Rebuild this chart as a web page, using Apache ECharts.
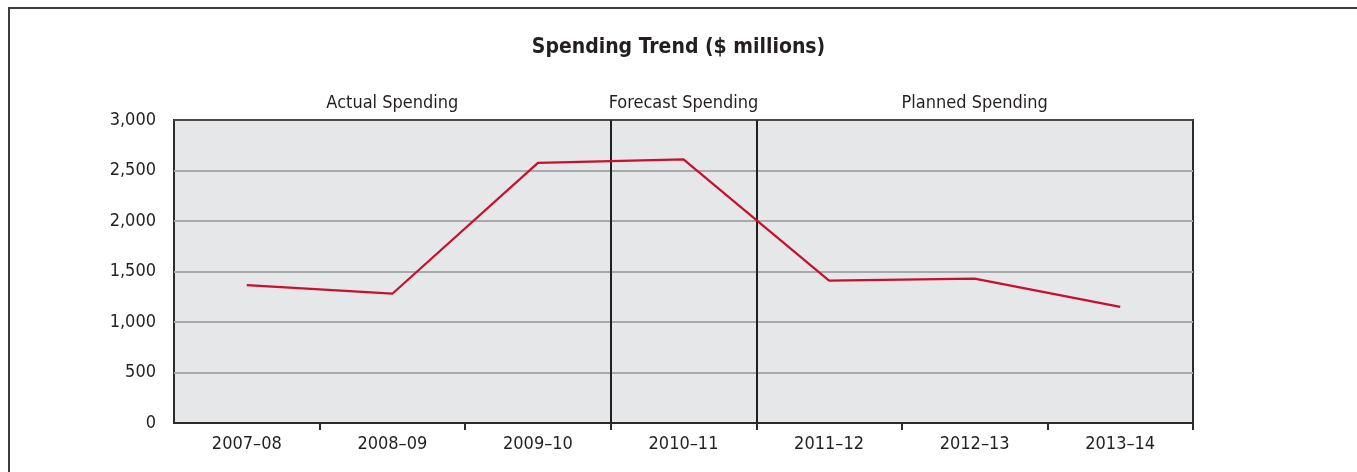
<!DOCTYPE html>
<html>
<head>
<meta charset="utf-8">
<title>Spending Trend</title>
<script src="https://cdn.jsdelivr.net/npm/echarts@6/dist/echarts.min.js"></script>
<style>
  html, body { margin: 0; padding: 0; background: #fff; }
  #chart { width: 1357px; height: 472px; }
</style>
</head>
<body>
<div id="chart"></div>
<script>
// Fiscal years and spending ($ millions)
const years = ['2007–08', '2008–09', '2009–10', '2010–11', '2011–12', '2012–13', '2013–14'];
const spending = [1365, 1280, 2575, 2610, 1410, 1430, 1150];

// Period bands: [label, first year index, year index after last]
const periodNames = ['Actual Spending', 'Forecast Spending', 'Planned Spending'];
const periodStart = [0, 3, 4];
const periodEnd = [3, 4, 7];

// Y-axis ticks
const yMin = 0;
const yMax = 3000;
const yStep = 500;

const FONT = "'DejaVu Sans Condensed', 'Liberation Sans', sans-serif";
const INK = '#231f20';

const chart = echarts.init(document.getElementById('chart'), null, { renderer: 'canvas' });

const periodAreas = periodNames.map((name, i) => [
  { xAxis: periodStart[i], name: name },
  { xAxis: periodEnd[i] }
]);

chart.setOption({
  animation: false,
  backgroundColor: '#ffffff',
  title: {
    text: 'Spending Trend ($ millions)',
    left: 'center',
    top: 32,
    textStyle: { fontFamily: FONT, fontSize: 21, fontWeight: 'bold', color: INK }
  },
  graphic: [{
    type: 'rect',
    shape: { x: 9, y: 8, width: 1400, height: 500 },
    style: { fill: 'none', stroke: '#3c3c3c', lineWidth: 2 },
    silent: true,
    z: 100
  }],
  grid: {
    left: 174, top: 120, width: 1019, height: 303,
    show: true,
    backgroundColor: '#e6e7e8',
    borderColor: '#2b2b2b',
    borderWidth: 2
  },
  xAxis: [{
    type: 'category',
    data: years,
    boundaryGap: true,
    axisLine: { show: true, lineStyle: { color: '#2b2b2b', width: 2 } },
    axisTick: {
      show: true,
      length: 7,
      interval: i => i !== 0,
      lineStyle: { color: '#2b2b2b', width: 2 }
    },
    axisLabel: { margin: 12, fontFamily: FONT, fontSize: 18, color: INK },
    splitLine: { show: false }
  }, {
    // Hidden linear axis spanning the year slots, used for period dividers
    type: 'value',
    min: 0,
    max: years.length,
    show: false,
    position: 'bottom'
  }],
  yAxis: {
    type: 'value',
    min: yMin,
    max: yMax,
    interval: yStep,
    axisLine: { show: false },
    axisTick: { show: false },
    axisLabel: {
      margin: 18,
      fontFamily: FONT,
      fontSize: 18,
      color: INK,
      formatter: v => v.toLocaleString('en-US')
    },
    splitLine: { show: true, lineStyle: { color: '#a7a9ac', width: 2 } }
  },
  series: [{
    type: 'line',
    xAxisIndex: 0,
    data: spending,
    symbol: 'none',
    lineStyle: { color: '#c8102e', width: 2.2 },
    z: 5
  }, {
    // Period dividers, plot top edge and period headings
    type: 'line',
    xAxisIndex: 1,
    data: [],
    markLine: {
      silent: true,
      symbol: 'none',
      label: { show: false },
      lineStyle: { color: '#231f20', width: 2, type: 'solid' },
      data: [
        { xAxis: periodEnd[0] },
        { xAxis: periodEnd[1] },
        { yAxis: yMax, lineStyle: { color: '#2b2b2b', width: 1.5, type: 'solid' } }
      ]
    },
    markArea: {
      silent: true,
      itemStyle: { color: 'rgba(0,0,0,0)' },
      label: {
        show: true,
        position: 'top',
        distance: 8,
        fontFamily: FONT,
        fontSize: 18,
        color: INK
      },
      data: periodAreas
    },
    z: 4
  }]
});
</script>
</body>
</html>
